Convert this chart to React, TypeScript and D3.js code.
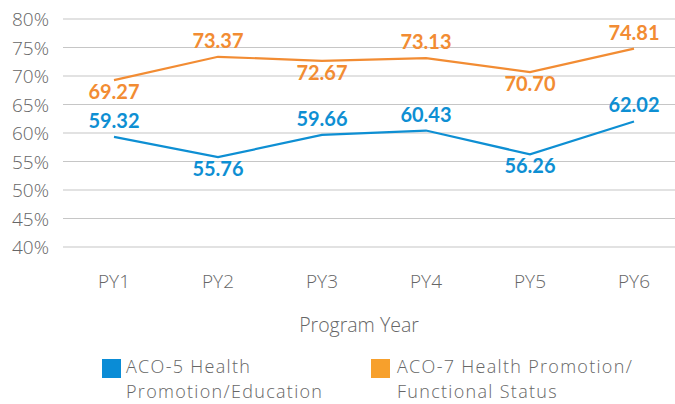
import React from "react";
import * as d3 from "d3";

const years = ["PY1", "PY2", "PY3", "PY4", "PY5", "PY6"];
const aco5 = [59.32, 55.76, 59.66, 60.43, 56.26, 62.02];
const aco7 = [69.27, 73.37, 72.67, 73.13, 70.7, 74.81];
// label above (true) or below (false) the point
const aco5Above = [true, false, true, true, false, true];
const aco7Above = [false, true, false, true, false, true];
const yTicks = [40, 45, 50, 55, 60, 65, 70, 75, 80];

const BLUE = "#0e8fd3";
const ORANGE = "#f28c33";
const GREY = "#666";
const LIGHT = "'Open Sans', Lato, sans-serif";
const BOLD = "Lato, 'Open Sans', sans-serif";

export default function App() {
  const width = 675;
  const height = 404;

  const x = d3.scalePoint<string>().domain(years).range([114, 634]);
  const y = d3.scaleLinear().domain([40, 80]).range([247, 19]);

  const line = d3
    .line<number>()
    .x((_, i) => x(years[i]) as number)
    .y(d => y(d));

  const series = [
    { values: aco7, above: aco7Above, color: ORANGE },
    { values: aco5, above: aco5Above, color: BLUE }
  ];

  const grey = { fontFamily: LIGHT, fontWeight: 300, fill: GREY } as const;
  const legendText = { ...grey, fontSize: 18, letterSpacing: 1.3 };

  return (
    <svg
      width={width}
      height={height}
      style={{ position: "absolute", left: 0, top: 0 }}
    >
      {/* grid + y labels */}
      {yTicks.map(t => (
        <g key={t}>
          <line x1={63} x2={675} y1={y(t)} y2={y(t)} stroke="#c6c6c6" strokeWidth={1.2} />
          <text x={49} y={y(t) + 7} textAnchor="end" fontSize={19} {...grey}>
            {t}%
          </text>
        </g>
      ))}

      {/* lines and labels */}
      {series.map((s, si) => (
        <g key={si}>
          <path d={line(s.values) || ""} fill="none" stroke={s.color} strokeWidth={2.2} />
          {s.values.map((v, i) => (
            <text
              key={i}
              x={x(years[i])}
              y={s.above[i] ? y(v) - 9 : y(v) + 19}
              textAnchor="middle"
              fontSize={20}
              fontWeight={700}
              fontFamily={BOLD}
              fill={s.color}
            >
              {v.toFixed(2)}
            </text>
          ))}
        </g>
      ))}

      {/* x labels */}
      {years.map(yr => (
        <text key={yr} x={x(yr)} y={288} textAnchor="middle" fontSize={19} {...grey}>
          {yr}
        </text>
      ))}
      <text x={359} y={332} textAnchor="middle" fontSize={19.5} {...grey}>
        Program Year
      </text>

      {/* legend */}
      <rect x={102} y={359} width={19} height={19} fill="#0a8cd6" />
      <text x={126} y={373} {...legendText}>
        ACO-5 Health
      </text>
      <text x={126} y={398} {...legendText}>
        Promotion/Education
      </text>
      <rect x={371} y={359} width={19} height={19} fill="#f7a02c" />
      <text x={397} y={373} {...legendText}>
        ACO-7 Health Promotion/
      </text>
      <text x={397} y={398} {...legendText}>
        Functional Status
      </text>
    </svg>
  );
}
